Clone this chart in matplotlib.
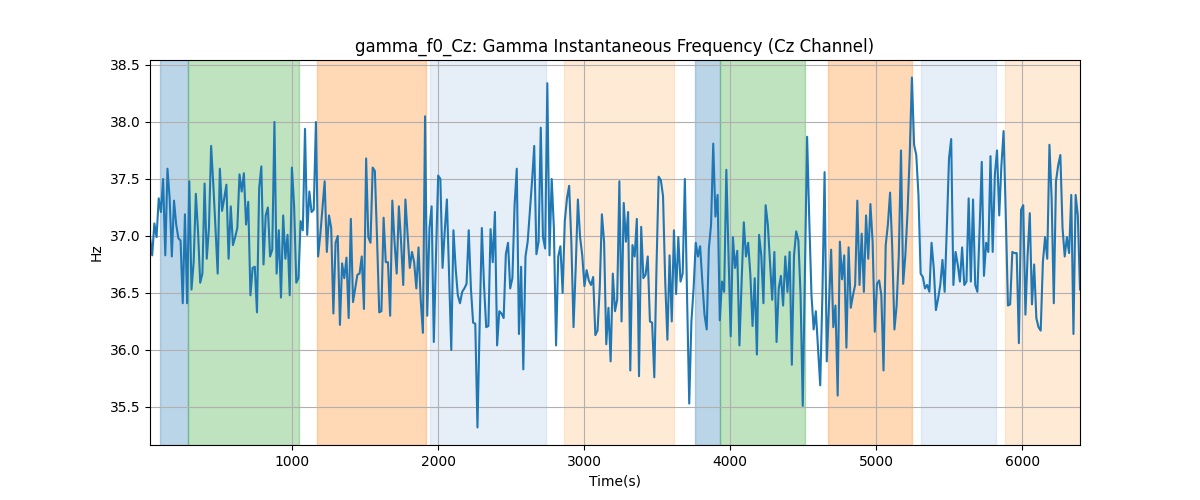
import numpy as np
import matplotlib
matplotlib.use("Agg")
import matplotlib.pyplot as plt

t_start, t_end = 24, 6396

hz = [
    # ~24-810 s
    36.99, 36.83, 37.11, 36.99, 37.33, 37.21, 37.50, 36.83, 37.59, 37.33,
    36.82, 37.31, 37.10, 36.98, 36.96, 36.41, 37.19, 36.41, 37.48, 36.53,
    36.77, 37.37, 37.04, 36.59, 36.67, 37.46, 36.80, 37.07, 37.79, 37.45,
    37.07, 36.67, 37.59, 37.22, 37.33, 37.45, 36.80, 37.26, 36.92, 36.99,
    37.07, 37.54, 37.39, 37.55, 37.10, 37.30, 36.48, 36.72, 36.73, 36.33,
    37.42, 37.61, 36.75, 37.18,
    # ~810-1610 s
    37.25, 36.82, 36.88, 38.00, 36.67, 37.05, 36.46, 37.18, 36.80, 37.01,
    36.48, 37.60, 37.27, 36.59, 36.63, 37.13, 37.05, 37.94, 37.01, 37.39,
    37.21, 37.23, 38.00, 36.82, 37.01, 37.24, 37.48, 36.86, 37.18, 37.07,
    36.32, 36.94, 37.00, 36.22, 36.76, 36.63, 36.81, 36.28, 37.15, 36.42,
    36.54, 36.66, 36.67, 36.82, 36.36, 37.68, 36.99, 36.94, 37.60, 37.57,
    36.98, 36.33,
    # ~1610-2410 s
    36.34, 37.16, 36.77, 36.77, 36.30, 37.31, 36.95, 36.67, 37.26, 36.95,
    36.57, 37.32, 37.01, 36.72, 36.86, 36.77, 36.54, 36.90, 36.44, 36.15,
    38.05, 36.30, 37.07, 37.26, 36.07, 36.83, 37.53, 37.50, 36.72, 37.04,
    37.32, 36.66, 36.00, 37.05, 36.72, 36.48, 36.41, 36.51, 36.54, 36.58,
    37.05, 36.54, 36.24, 36.23, 35.32, 36.22, 37.07, 36.57, 36.20, 36.21,
    37.06, 36.77, 37.21, 36.04,
    # ~2410-3210 s
    36.34, 36.32, 36.28, 36.84, 36.94, 36.54, 36.63, 37.27, 37.59, 36.14,
    36.73, 35.83, 36.82, 36.95, 37.21, 37.48, 37.79, 36.84, 36.95, 37.95,
    36.99, 36.89, 38.34, 36.83, 37.50, 37.07, 36.04, 36.82, 36.91, 36.50,
    37.13, 37.33, 37.44, 36.95, 36.20, 36.72, 37.32, 36.99, 36.83, 36.56,
    36.70, 36.61, 36.57, 36.64, 36.13, 36.17, 36.54, 37.19, 36.95, 36.05,
    36.37, 35.90, 36.67,
    # ~3210-4010 s
    36.34, 36.44, 37.48, 36.25, 37.29, 36.95, 37.21, 35.82, 36.92, 36.82,
    37.15, 35.77, 37.08, 36.63, 36.66, 36.82, 36.25, 36.24, 35.76, 36.72,
    37.52, 37.49, 37.35, 36.60, 36.09, 36.83, 36.25, 37.05, 36.49, 36.99,
    36.60, 36.67, 37.50, 36.48, 35.53, 36.25, 36.54, 36.94, 36.82, 36.91,
    36.60, 36.31, 36.18, 36.89, 37.10, 37.81, 37.17, 37.36, 36.26, 36.60,
    36.51, 37.58, 36.83, 36.12,
    # ~4010-4810 s
    36.99, 36.72, 36.87, 36.04, 36.60, 37.12, 36.82, 36.94, 36.66, 36.21,
    36.63, 35.96, 37.01, 36.83, 36.41, 37.27, 37.10, 36.77, 36.44, 36.86,
    36.07, 36.54, 36.65, 36.39, 36.82, 36.51, 36.86, 35.87, 36.83, 37.04,
    36.96, 36.48, 35.51, 36.72, 37.87, 37.13, 36.48, 36.18, 36.34, 36.01,
    35.69, 36.48, 37.56, 35.90, 36.39, 36.88, 36.20, 36.39, 35.60, 36.95,
    36.62, 36.83, 36.02, 36.90,
    # ~4810-5610 s
    36.37, 36.48, 36.57, 37.31, 36.57, 37.02, 36.51, 37.18, 36.80, 37.28,
    36.95, 36.16, 36.58, 36.61, 36.48, 35.82, 36.92, 37.10, 37.38, 36.89,
    36.18, 36.39, 36.83, 37.75, 36.58, 36.83, 37.21, 37.71, 38.39, 37.80,
    37.71, 37.36, 36.67, 36.64, 36.54, 36.57, 36.51, 36.94, 36.72, 36.35,
    36.45, 36.57, 36.79, 36.51, 37.07, 37.68, 37.85, 36.57, 36.86, 36.75,
    36.60, 36.90, 36.57,
    # ~5610-6396 s
    36.60, 37.33, 36.60, 37.32, 36.57, 36.51, 37.05, 37.65, 36.65, 36.94,
    36.86, 37.70, 36.86, 37.54, 37.75, 37.18, 37.62, 37.92, 37.18, 36.39,
    36.40, 36.86, 36.85, 36.85, 36.06, 37.23, 37.27, 36.31, 36.83, 37.20,
    36.40, 36.75, 36.28, 36.20, 36.17, 36.77, 36.99, 36.80, 37.80, 37.33,
    36.41, 37.48, 37.62, 37.71, 37.07, 36.82, 36.99, 36.85, 37.36, 36.14,
    37.36, 37.18, 36.53,
]

span_starts = [95, 287, 1171, 1944, 2861, 3757, 3927, 4669, 5307, 5883]
span_ends = [287, 1043, 1917, 2735, 3613, 3927, 4509, 5243, 5822, 6500]
span_colors = ["tab:blue", "tab:green", "tab:orange", "#aec7e8", "#ffbb78",
               "tab:blue", "tab:green", "tab:orange", "#aec7e8", "#ffbb78"]

times = np.linspace(t_start, t_end, len(hz))

fig, ax = plt.subplots(figsize=(12, 5), dpi=100)
for s, e, c in zip(span_starts, span_ends, span_colors):
    ax.axvspan(s, e, color=c, alpha=0.3)
ax.plot(times, hz, color="tab:blue", linewidth=1.5)
ax.set_xlim(times[0], times[-1])
ax.grid(True)
ax.set_title("gamma_f0_Cz: Gamma Instantaneous Frequency (Cz Channel)")
ax.set_xlabel("Time(s)")
ax.set_ylabel("Hz")
fig.savefig("out.png")
